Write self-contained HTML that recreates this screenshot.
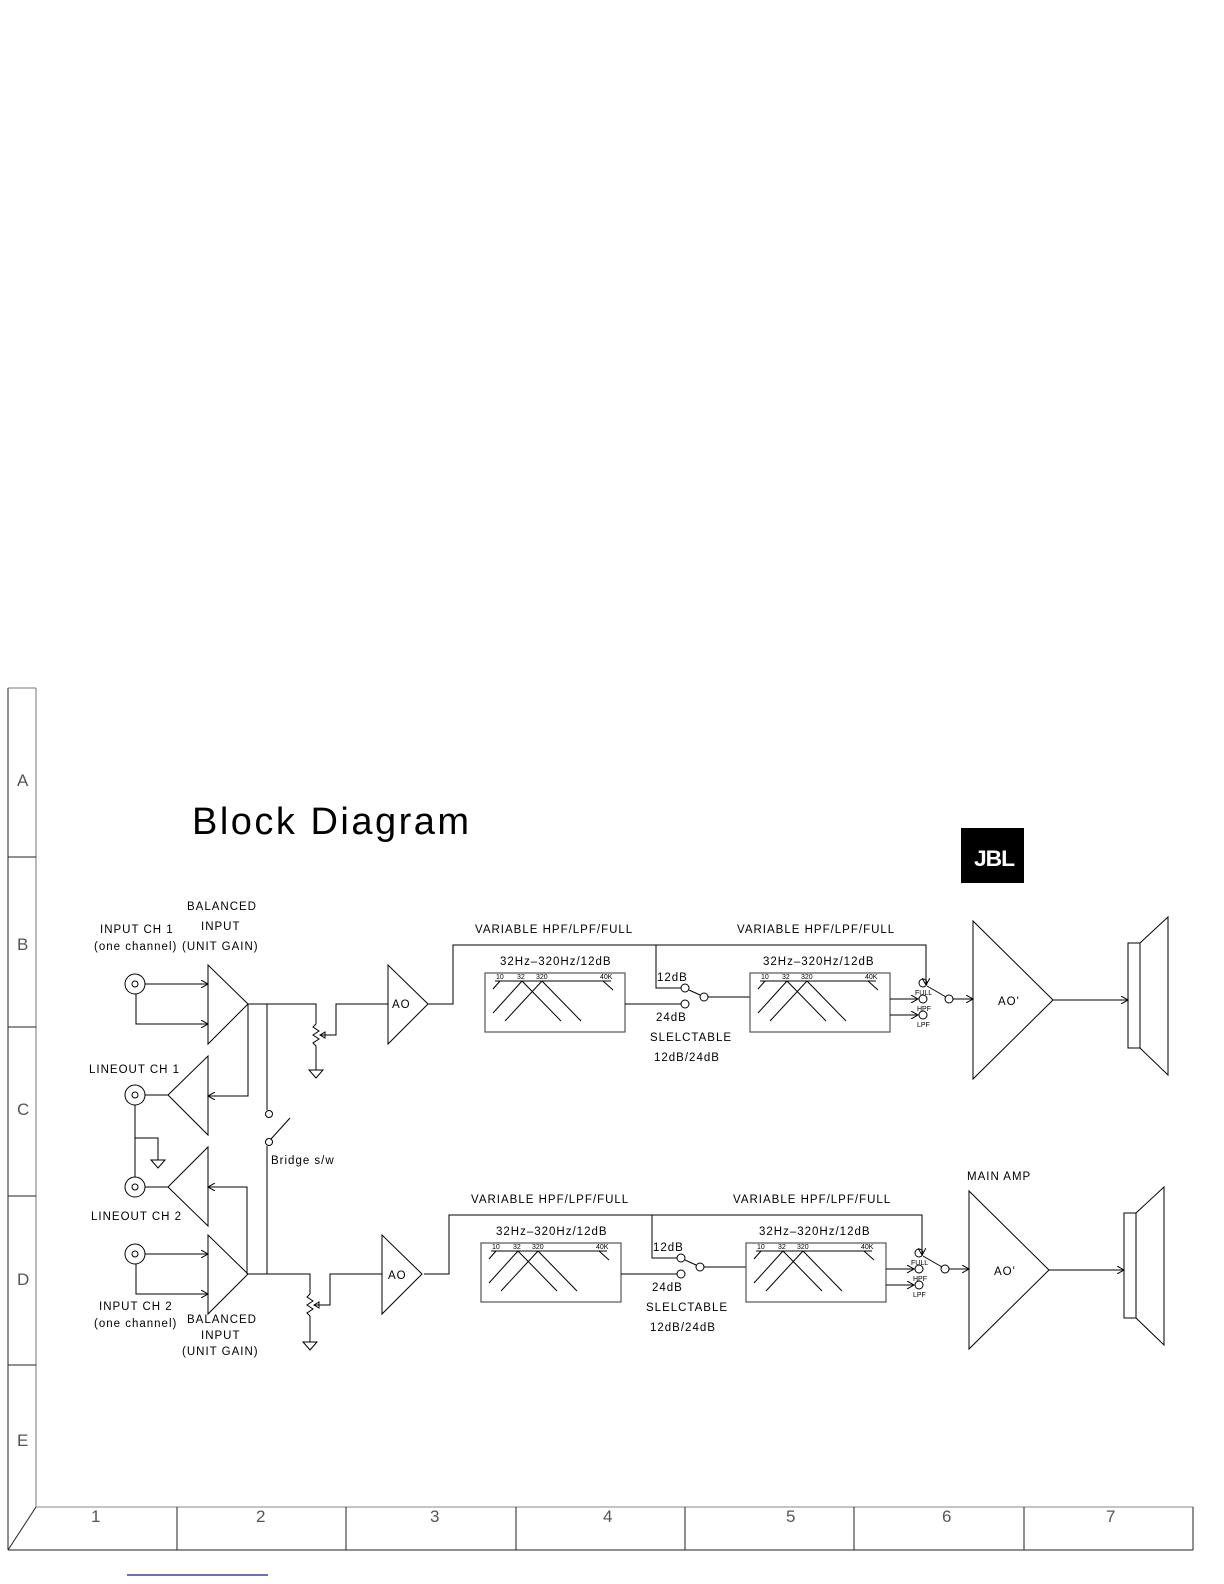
<!DOCTYPE html>
<html><head><meta charset="utf-8"><style>
html,body{margin:0;padding:0;background:#fff;}
svg{display:block}
text{font-family:"Liberation Sans",sans-serif;fill:#000;stroke:none}
.t{font-size:11.5px;letter-spacing:1px}
.s{font-size:7px}
</style></head><body>
<svg width="1224" height="1584" viewBox="0 0 1224 1584" xmlns="http://www.w3.org/2000/svg">
<defs>
<marker id="ar" markerWidth="8" markerHeight="8" refX="7" refY="4" orient="auto" markerUnits="userSpaceOnUse">
<path d="M0,0 L7,4 L0,8" fill="none" stroke="#000" stroke-width="1"/></marker>
<g id="filt">
<rect x="0" y="0" width="140" height="59" fill="none" stroke="#555" stroke-width="1.2"/>
<line x1="10" y1="8" x2="126" y2="8" stroke="#000"/>
<line x1="15" y1="8" x2="8" y2="16" stroke="#000"/>
<line x1="118" y1="8" x2="128" y2="17" stroke="#000"/>
<line x1="8" y1="40" x2="37" y2="8" stroke="#000"/>
<line x1="37" y1="8" x2="76" y2="48" stroke="#000"/>
<line x1="20" y1="48" x2="57" y2="8" stroke="#000"/>
<line x1="57" y1="8" x2="96" y2="48" stroke="#000"/>
<text x="11" y="6" class="s">10</text><text x="32" y="6" class="s">32</text><text x="51" y="6" class="s">320</text><text x="115" y="6" class="s">40K</text>
</g>
<g id="chain" fill="none" stroke="#000" stroke-width="1">
<polyline points="428,1004 453,1004 453,945 926,945 926,985" marker-end="url(#ar)"/>
<polyline points="656,945 656,988 681,988"/>
<use href="#filt" x="485" y="973"/>
<line x1="625" y1="1004" x2="681" y2="1004"/>
<circle cx="685" cy="988" r="4"/><circle cx="685" cy="1004" r="4"/><circle cx="704" cy="997" r="4"/>
<line x1="689" y1="990" x2="700" y2="995"/>
<line x1="708" y1="997" x2="750" y2="997"/>
<use href="#filt" x="750" y="973"/>
<line x1="890" y1="999" x2="918" y2="999" marker-end="url(#ar)"/>
<line x1="890" y1="1015" x2="918" y2="1015" marker-end="url(#ar)"/>
<circle cx="923" cy="983" r="4"/><circle cx="923" cy="999" r="4"/><circle cx="923" cy="1015" r="4"/>
<line x1="927" y1="986" x2="946" y2="997"/>
<circle cx="949" cy="999" r="4"/>
<line x1="953" y1="999" x2="973" y2="999" marker-end="url(#ar)"/>
<polygon points="973,921 973,1079 1053,1000"/>
<line x1="1053" y1="1000" x2="1128" y2="1000" marker-end="url(#ar)"/>
<rect x="1128" y="943" width="12" height="105"/>
<polyline points="1140,943 1168,917 1168,1075 1140,1048"/>
</g>
<g id="chaintext">
<text x="475" y="933" class="t">VARIABLE HPF/LPF/FULL</text>
<text x="737" y="933" class="t">VARIABLE HPF/LPF/FULL</text>
<text x="500" y="965" class="t">32Hz–320Hz/12dB</text>
<text x="763" y="965" class="t">32Hz–320Hz/12dB</text>
<text x="657" y="981" class="t" letter-spacing="0">12dB</text>
<text x="656" y="1021" class="t">24dB</text>
<text x="650" y="1041" class="t">SLELCTABLE</text>
<text x="654" y="1061" class="t">12dB/24dB</text>
<text x="915" y="995" class="s">FULL</text><text x="917" y="1011" class="s">HPF</text><text x="917" y="1027" class="s">LPF</text>
<text x="998" y="1005" class="t">AO'</text>
</g>
</defs>

<g fill="none" stroke="#222" stroke-width="1">
<line x1="8" y1="688" x2="8" y2="1550"/>
<line x1="36" y1="688" x2="36" y2="1507" stroke="#777"/>
<line x1="8" y1="688" x2="36" y2="688" stroke="#777"/>
<line x1="36" y1="1507" x2="1193" y2="1507" stroke="#888"/>
<line x1="8" y1="1550" x2="1193" y2="1550"/>
<line x1="8" y1="1550" x2="36" y2="1507"/>
<line x1="8" y1="857" x2="36" y2="857"/><line x1="8" y1="1027" x2="36" y2="1027"/>
<line x1="8" y1="1196" x2="36" y2="1196"/><line x1="8" y1="1365" x2="36" y2="1365"/>
<line x1="177" y1="1507" x2="177" y2="1550"/><line x1="346" y1="1507" x2="346" y2="1550"/>
<line x1="516" y1="1507" x2="516" y2="1550"/><line x1="685" y1="1507" x2="685" y2="1550"/>
<line x1="854" y1="1507" x2="854" y2="1550"/><line x1="1024" y1="1507" x2="1024" y2="1550"/>
<line x1="1193" y1="1507" x2="1193" y2="1550"/>
</g>
<g font-size="17">
<text x="17" y="786" style="fill:#555">A</text><text x="17" y="950" style="fill:#555">B</text><text x="17" y="1115" style="fill:#555">C</text>
<text x="17" y="1285" style="fill:#555">D</text><text x="17" y="1446" style="fill:#555">E</text>
<text x="91" y="1522" style="fill:#555">1</text><text x="256" y="1522" style="fill:#555">2</text><text x="430" y="1522" style="fill:#555">3</text>
<text x="603" y="1522" style="fill:#555">4</text><text x="786" y="1522" style="fill:#555">5</text><text x="942" y="1522" style="fill:#555">6</text><text x="1106" y="1522" style="fill:#555">7</text>
</g>
<line x1="127" y1="1575" x2="268" y2="1575" stroke="#1a1a8a" stroke-width="1.3"/>

<text x="192" y="834" font-size="38" letter-spacing="2.5">Block Diagram</text>
<rect x="961" y="828" width="63" height="55" fill="#000"/>
<text x="974" y="866" font-size="22" font-weight="bold" style="fill:#fff" letter-spacing="-1" textLength="40" lengthAdjust="spacingAndGlyphs">JBL</text>

<g fill="none" stroke="#000" stroke-width="1">
<circle cx="135" cy="984" r="10"/><circle cx="135" cy="984" r="3"/>
<line x1="145" y1="984" x2="208" y2="984" marker-end="url(#ar)"/>
<polyline points="136,994 136,1024 208,1024" marker-end="url(#ar)"/>
<polygon points="208,965 208,1044 248,1004"/>
<polyline points="248,1004 316,1004 316,1024"/>
<polyline points="316,1024 313,1027 319,1031 313,1035 319,1039 313,1043 316,1046 316,1070"/>
<polygon points="309,1070 323,1070 316,1078"/>
<polyline points="320,1035 336,1035 336,1004 388,1004"/>
<polygon points="320,1035 325,1032 325,1038"/>
<polygon points="388,965 388,1044 428,1004"/>
<polyline points="248,1004 248,1096 208,1096" marker-end="url(#ar)"/>
<polygon points="208,1056 208,1135 168,1095"/>
<circle cx="135" cy="1095" r="10"/><circle cx="135" cy="1095" r="3"/>
<line x1="145" y1="1095" x2="168" y2="1095"/>
<line x1="135" y1="1105" x2="135" y2="1177"/>
<polyline points="135,1138 158,1138 158,1160"/>
<polygon points="151,1160 165,1160 158,1168"/>
<circle cx="135" cy="1187" r="10"/><circle cx="135" cy="1187" r="3"/>
<line x1="145" y1="1187" x2="168" y2="1187"/>
<polygon points="208,1147 208,1226 168,1187"/>
<polyline points="247,1274 247,1187 208,1187" marker-end="url(#ar)"/>
<circle cx="135" cy="1254" r="10"/><circle cx="135" cy="1254" r="3"/>
<line x1="145" y1="1254" x2="208" y2="1254" marker-end="url(#ar)"/>
<polyline points="136,1264 136,1294 208,1294" marker-end="url(#ar)"/>
<polygon points="208,1235 208,1314 248,1274"/>
<polyline points="248,1274 310,1274 310,1294"/>
<polyline points="310,1294 307,1297 313,1301 307,1305 313,1309 307,1313 310,1316 310,1342"/>
<polygon points="303,1342 317,1342 310,1350"/>
<polyline points="314,1305 330,1305 330,1274 382,1274"/>
<polygon points="314,1305 319,1302 319,1308"/>
<line x1="267" y1="1004" x2="267" y2="1110"/>
<circle cx="269" cy="1114" r="3.5"/>
<circle cx="269" cy="1142" r="3.5"/>
<line x1="271" y1="1139" x2="290" y2="1118"/>
<line x1="267" y1="1146" x2="267" y2="1274"/>
<polygon points="382,1235 382,1314 422,1274"/>
</g>
<text x="187" y="910" class="t">BALANCED</text>
<text x="201" y="930" class="t">INPUT</text>
<text x="100" y="933" class="t">INPUT CH 1</text>
<text x="94" y="950" class="t">(one channel)</text>
<text x="182" y="950" class="t">(UNIT GAIN)</text>
<text x="392" y="1008" class="t">AO</text>
<text x="89" y="1073" class="t">LINEOUT CH 1</text>
<text x="271" y="1164" class="t">Bridge s/w</text>
<text x="91" y="1220" class="t">LINEOUT CH 2</text>
<text x="99" y="1310" class="t">INPUT CH 2</text>
<text x="94" y="1327" class="t">(one channel)</text>
<text x="187" y="1323" class="t">BALANCED</text>
<text x="201" y="1339" class="t">INPUT</text>
<text x="182" y="1355" class="t">(UNIT GAIN)</text>
<text x="388" y="1279" class="t">AO</text>
<text x="967" y="1180" class="t">MAIN AMP</text>

<use href="#chain"/><use href="#chaintext"/>
<g transform="translate(-4,270)"><use href="#chain"/><use href="#chaintext"/></g>
</svg>
</body></html>
